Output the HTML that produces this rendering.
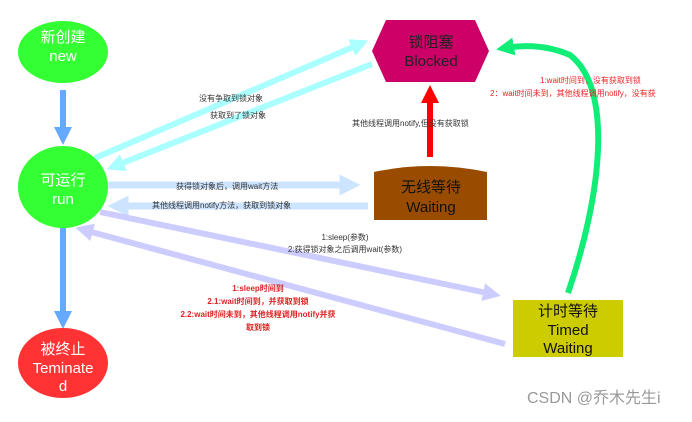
<!DOCTYPE html>
<html><head><meta charset="utf-8"><style>
body{margin:0;background:#fff;width:692px;height:417px;overflow:hidden}
svg text{font-family:"Liberation Sans","Noto Sans CJK SC",sans-serif}
</style></head><body>
<svg width="692" height="417" viewBox="0 0 692 417">
<defs>
<marker id="ab" markerWidth="3" markerHeight="3" refX="1.5" refY="1.5" orient="auto"><path d="M0,0L3,1.5L0,3z" fill="#66aaff"/></marker>
<marker id="ac" markerWidth="3" markerHeight="3" refX="1.5" refY="1.5" orient="auto"><path d="M0,0L3,1.5L0,3z" fill="#aaffff"/></marker>
<marker id="al" markerWidth="3" markerHeight="3" refX="1.5" refY="1.5" orient="auto"><path d="M0,0L3,1.5L0,3z" fill="#cce4ff"/></marker>
<marker id="ap" markerWidth="3" markerHeight="3" refX="1.5" refY="1.5" orient="auto"><path d="M0,0L3,1.5L0,3z" fill="#ccccff"/></marker>
<marker id="ar" markerWidth="3" markerHeight="3" refX="1.5" refY="1.5" orient="auto"><path d="M0,0L3,1.5L0,3z" fill="#ff0000"/></marker>
<marker id="ag" markerWidth="3" markerHeight="3" refX="1.5" refY="1.5" orient="auto"><path d="M0,0L3,1.5L0,3z" fill="#11ee77"/></marker>
</defs>
<line x1="63" y1="90" x2="63" y2="136" stroke="#66aaff" stroke-width="6" marker-end="url(#ab)"/>
<line x1="63" y1="228" x2="63" y2="320" stroke="#66aaff" stroke-width="6" marker-end="url(#ab)"/>
<line x1="95" y1="158" x2="360" y2="44" stroke="#aaffff" stroke-width="6" marker-end="url(#ac)"/>
<line x1="372" y1="64" x2="115" y2="166" stroke="#aaffff" stroke-width="6" marker-end="url(#ac)"/>
<line x1="108" y1="185" x2="350" y2="185" stroke="#cce4ff" stroke-width="7" marker-end="url(#al)"/>
<line x1="368" y1="206" x2="118" y2="206" stroke="#cce4ff" stroke-width="7" marker-end="url(#al)"/>
<line x1="100" y1="212" x2="492" y2="294" stroke="#ccccff" stroke-width="6" marker-end="url(#ap)"/>
<line x1="505" y1="344" x2="84" y2="230" stroke="#ccccff" stroke-width="6" marker-end="url(#ap)"/>
<line x1="430" y1="157" x2="430" y2="94" stroke="#ff0000" stroke-width="6" marker-end="url(#ar)"/>
<path d="M568,293 C600,200 615,90 570,55 Q540,42 505,48" fill="none" stroke="#11ee77" stroke-width="6" marker-end="url(#ag)"/>
<ellipse cx="63" cy="52" rx="45" ry="31" fill="#33ff33"/>
<text x="63" y="42" font-size="15" fill="#fff" text-anchor="middle">新创建</text>
<text x="63" y="61" font-size="15" fill="#fff" text-anchor="middle">new</text>
<ellipse cx="63" cy="187" rx="45" ry="41" fill="#33ff33"/>
<text x="63" y="185" font-size="15" fill="#fff" text-anchor="middle">可运行</text>
<text x="63" y="204" font-size="15" fill="#fff" text-anchor="middle">run</text>
<ellipse cx="63" cy="363" rx="45" ry="35" fill="#ff3333"/>
<text x="63" y="354" font-size="15" fill="#fff" text-anchor="middle">被终止</text>
<text x="63" y="373" font-size="15" fill="#fff" text-anchor="middle">Teminate</text>
<text x="63" y="391" font-size="15" fill="#fff" text-anchor="middle">d</text>
<polygon points="372,51 386,20 475,20 489,51 475,82 386,82" fill="#cc0066"/>
<text x="431" y="47" font-size="15" fill="#222" text-anchor="middle">锁阻塞</text>
<text x="431" y="66" font-size="15" fill="#222" text-anchor="middle">Blocked</text>
<path d="M374,220 L374,172 Q430,160 487,172 L487,220 Z" fill="#994c00"/>
<text x="431" y="192" font-size="15" fill="#111" text-anchor="middle">无线等待</text>
<text x="431" y="212" font-size="15" fill="#111" text-anchor="middle">Waiting</text>
<rect x="513" y="300" width="110" height="57" fill="#cccc00"/>
<text x="568" y="316" font-size="15" fill="#111" text-anchor="middle">计时等待</text>
<text x="568" y="335" font-size="15" fill="#111" text-anchor="middle">Timed</text>
<text x="568" y="353" font-size="15" fill="#111" text-anchor="middle">Waiting</text>
<g font-size="8" fill="#333">
<text x="199" y="101">没有争取到锁对象</text>
<text x="210" y="118">获取到了锁对象</text>
<text x="352" y="126">其他线程调用notify,但没有获取锁</text>
<text x="176" y="189">获得锁对象后，调用wait方法</text>
<text x="152" y="208">其他线程调用notify方法，获取到锁对象</text>
<text x="345" y="240" text-anchor="middle">1:sleep(参数)</text>
<text x="345" y="252" text-anchor="middle">2:获得锁对象之后调用wait(参数)</text>
</g>
<g font-size="8" fill="#ee2222">
<text x="540" y="83">1:wait时间到，没有获取到锁</text>
<text x="490" y="96">2：wait时间未到，其他线程调用notify，没有获</text>
</g>
<g font-size="8" fill="#dd2222" font-weight="bold" text-anchor="middle">
<text x="258" y="291">1:sleep时间到</text>
<text x="258" y="304">2.1:wait时间到，并获取到锁</text>
<text x="258" y="317">2.2:wait时间未到，其他线程调用notify并获</text>
<text x="258" y="330">取到锁</text>
</g>
<text x="527" y="403" font-size="16" fill="#999">CSDN @乔木先生i</text>
</svg>
</body></html>
